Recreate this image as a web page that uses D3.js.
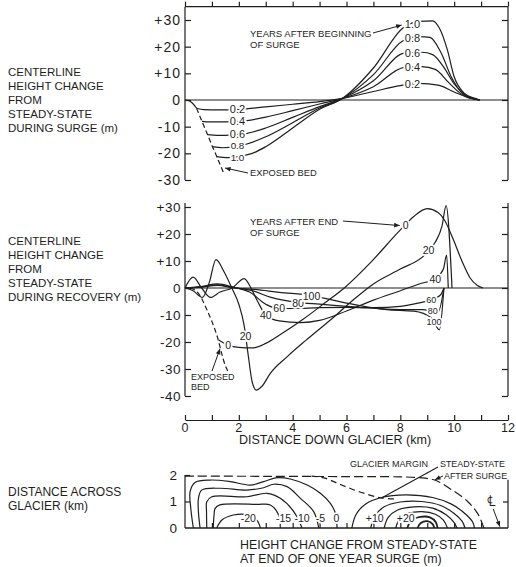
<!DOCTYPE html>
<html><head><meta charset="utf-8">
<script src="https://cdn.jsdelivr.net/npm/d3@7"></script>
<style>
body{margin:0;background:#fff}
svg{display:block}
text{font-family:"Liberation Sans",Arial,sans-serif;fill:#1e1e1e}
</style></head><body>
<svg id="c" width="516" height="567"></svg>
<script>
// ================= DATA =================
const distTicks = [0,2,4,6,8,10,12];
const distMinorTicks = [0,1,2,3,4,5,6,7,8,9,10,11,12];
const topYTicks = [30,20,10,0,-10,-20,-30];
const midYTicks = [30,20,10,0,-10,-20,-30,-40];
const acrossTicks = [0,1,2];

// Panel 1: centerline height change during surge (km, m)
const surgeYears = ["0.2","0.4","0.6","0.8","1.0"];
const surgeStart = [[0,0],[0.12,-0.2],[0.27,-1.1],[0.43,-3.1]];
const surgeBed = [[0.43,-3.1],[0.63,-8],[0.84,-13],[1.02,-17.5],[1.18,-21.2],[1.42,-27]];
const surge02 = [[0.43,-3.1],[0.7,-3.6],[1.2,-3.7],[2,-3.5],[3,-2.6],[4,-1.6],[5,-0.6],[5.85,0.6],[7,3.2],[8,5.4],[8.7,6.2],[9.4,5.6],[10,3],[10.5,1],[10.95,0]];
const surge04 = [[0.63,-8],[0.9,-8.2],[1.5,-8.2],[2.3,-7.7],[3,-6.4],[4,-4],[5,-1.5],[5.85,0.6],[7,5],[8.15,12.2],[8.8,12.5],[9.3,11.5],[9.8,6.5],[10.3,2],[10.95,0]];
const surge06 = [[0.84,-13],[1.2,-13.3],[1.8,-13.1],[2.3,-12.5],[3,-10.5],[4,-6.5],[5,-2.5],[5.85,0.6],[7,7.2],[8.15,17.6],[8.8,17.9],[9.2,17],[9.6,12.5],[10,6],[10.4,2],[10.95,0]];
const surge08 = [[1.02,-17.5],[1.4,-17.9],[1.9,-17.5],[2.3,-16.5],[3,-13.8],[4,-8.5],[5,-3],[5.85,0.6],[7,9.5],[8.1,22.2],[8.7,23.8],[9.1,23.5],[9.5,18],[9.9,8.5],[10.3,2.5],[10.7,0.6],[10.95,0]];
const surge10 = [[1.18,-21.2],[1.6,-21.6],[2.1,-21],[2.5,-20],[3,-17.5],[4,-10.5],[5,-3.5],[5.85,0.6],[7,12],[8.1,27],[8.7,29.5],[9.2,29.7],[9.45,27],[9.75,18.7],[10,8.7],[10.37,2.6],[10.75,0.7],[10.95,0]];

// Panel 2: centerline height change during recovery (km, m)
const recoveryYears = ["0","20","40","60","80","100"];
const recBed = [[0.2,0],[0.5,-2],[0.81,-8],[1.18,-17.4],[1.49,-28.5],[1.6,-31]];
const rec0 = [[1.25,-19.3],[1.6,-21.2],[2,-22],[2.5,-22.2],[3,-20.5],[3.5,-17.5],[4.4,-11.5],[5.2,-5.5],[5.95,0.3],[6.9,9.5],[8,21.5],[8.5,26.5],[9,29.4],[9.4,28],[9.65,25],[9.95,18.4],[10.3,9.7],[10.6,3.6],[10.85,1],[11.07,0]];
const rec20 = [[0,0],[0.3,-1],[0.65,-3.5],[0.9,2],[1.15,10.5],[1.45,6],[1.74,0],[2,-6],[2.2,-14],[2.35,-25],[2.5,-35],[2.65,-37.8],[2.85,-36.5],[3.17,-31.6],[3.8,-25.4],[4.5,-19.3],[5.5,-11],[6.3,-4],[7,1.5],[8,7],[8.9,12.2],[9.3,17],[9.55,23],[9.7,30.5],[9.92,0]];
const rec40 = [[0,0],[0.3,4],[0.62,0],[0.95,-3.5],[1.3,-1.5],[1.75,0],[2.2,3.5],[2.45,0],[2.7,-5],[3,-10],[3.5,-12.2],[4.3,-12.8],[5,-12],[6,-8.5],[7,-4.5],[8,-1],[8.7,1.5],[9.3,3.5],[9.6,7],[9.72,12.2],[9.78,0]];
const rec60 = [[0,0],[0.6,0.5],[1.2,1.5],[1.8,0.3],[2.4,-1.5],[3,-6],[3.4,-7.5],[4,-7.6],[5,-7.3],[6,-7.2],[7,-7.3],[8,-6.8],[8.7,-5.5],[9.2,-4.2],[9.5,-2.5],[9.62,0]];
const rec80 = [[0,0],[0.6,0.3],[1.2,1.2],[1.8,0.2],[2.5,-1],[3.2,-3.5],[4.2,-5.4],[5,-6],[6,-6.8],[7,-7.5],[8,-8],[8.8,-8],[9.4,-9],[9.62,0]];
const rec100 = [[0,0],[0.6,0.4],[1.2,1],[1.8,0],[2.6,-0.5],[3.5,-1.6],[4.7,-2.8],[5.5,-4.5],[6.5,-6.5],[7.5,-8],[8.5,-8.6],[9.15,-11],[9.45,-15.5],[9.62,0]];

// Panel 3: contours of height change at end of one-year surge (km down, km across)
const contourLevels = ["0","-5","-10","-15","-20","+5","+10","+15","+20","+25","+30"];
const cNeg0  = [[0.31,0],[0.22,0.7],[0.19,1.37],[0.37,1.72],[0.93,1.81],[1.68,1.75],[2.42,1.62],[2.92,1.75],[3.42,1.9],[3.91,1.85],[4.54,1.62],[5.03,1.31],[5.4,0.93],[5.59,0.55],[5.65,0]];
const cNeg5  = [[0.56,0],[0.5,0.6],[0.5,1.12],[0.62,1.43],[1.3,1.5],[2.3,1.43],[2.92,1.52],[3.29,1.65],[3.79,1.56],[4.29,1.12],[4.78,0.62],[4.97,0]];
const cNeg10 = [[0.81,0],[0.8,0.6],[0.81,0.99],[1,1.18],[2.3,1.18],[3.05,1.31],[3.54,1.12],[4.04,0.62],[4.35,0]];
const cNeg15 = [[1.05,0],[1.08,0.5],[1.12,0.74],[1.3,0.87],[2.67,0.89],[3.17,0.87],[3.48,0.49],[3.54,0]];
const cNeg20 = [[1.18,0],[1.37,0.3],[1.8,0.49],[2.3,0.5],[2.67,0.3],[2.8,0]];
const cPos5  = [[6.2,0],[6.35,0.5],[6.7,0.9],[7.3,1.15],[8.2,1.25],[9.2,1.15],[9.9,0.9],[10.45,0.5],[10.7,0.2],[10.75,0]];
const cPos10 = [[6.9,0],[7.05,0.45],[7.4,0.8],[8,0.98],[8.8,1],[9.5,0.85],[10,0.55],[10.3,0.25],[10.4,0]];
const cPos15 = [[7.4,0],[7.55,0.4],[7.9,0.68],[8.5,0.8],[9.2,0.75],[9.7,0.5],[10,0.2],[10.1,0]];
const cPos20 = [[7.83,0],[7.98,0.35],[8.3,0.55],[8.8,0.62],[9.3,0.52],[9.6,0.3],[9.75,0]];
const cPos25 = [[8.26,0],[8.4,0.28],[8.75,0.42],[9.1,0.4],[9.32,0.22],[9.38,0]];
const cPos30 = [[8.64,0],[8.75,0.18],[9,0.26],[9.2,0.15],[9.26,0]];
const marginAfterSurge = [[0,1.96],[3,1.95],[6,1.94],[8,1.93],[8.7,1.9],[9.3,1.8],[9.9,1.45],[10.5,1],[10.87,0.55],[11.06,0.12],[11.1,0]];
const marginSteady = [[4.7,1.96],[5.2,1.88],[5.8,1.63],[6.5,1.36],[7.27,1.14],[7.8,1.1]];
const contourLabelX = [5.63,5.03,4.35,3.66,2.35,null,7.05,null,8.2,null,null];

// ================= DRAW =================
const ink = "#1e1e1e";
const svg = d3.select("#c");
const x = d3.scaleLinear().domain([0,12]).range([185,508]);
const yTop = d3.scaleLinear().domain([-30,30]).range([180,20]);
const yMid = d3.scaleLinear().domain([-40,30]).range([396,207]);
const yBot = d3.scaleLinear().domain([0,2]).range([528,475]);

function interp(pts, xv){
  for(let i=1;i<pts.length;i++){
    const a=pts[i-1], b=pts[i];
    if(xv>=a[0] && xv<=b[0]) return a[1]+(b[1]-a[1])*(xv-a[0])/(b[0]-a[0]);
  }
  return pts[pts.length-1][1];
}
function path(g, pts, ys, curve, dash, w){
  g.append("path").datum(pts)
    .attr("d", d3.line().x(d=>x(d[0])).y(d=>ys(d[1])).curve(curve))
    .attr("fill","none").attr("stroke",ink).attr("stroke-width",w||1.2)
    .attr("stroke-dasharray",dash||null).attr("stroke-linejoin","round");
}
function label(g, txt, px, py, size, anchor){
  g.append("text").attr("x",px).attr("y",py).attr("text-anchor",anchor||"middle")
    .attr("dominant-baseline","central").attr("font-size",size)
    .attr("stroke","#fff").attr("stroke-width",3.5).attr("paint-order","stroke")
    .text(txt);
}
function arrow(g, x1,y1,x2,y2){
  g.append("line").attr("x1",x1).attr("y1",y1).attr("x2",x2).attr("y2",y2)
    .attr("stroke",ink).attr("stroke-width",1);
  const a=Math.atan2(y2-y1,x2-x1), L=6, s=0.4;
  const p=[[x2,y2],[x2-L*Math.cos(a-s),y2-L*Math.sin(a-s)],[x2-L*Math.cos(a+s),y2-L*Math.sin(a+s)]];
  g.append("path").attr("d","M"+p.map(d=>d.join(",")).join("L")+"Z").attr("fill",ink);
}
function textBlock(lines, px, py0, dy, size){
  lines.forEach((t,i)=>svg.append("text").attr("x",px).attr("y",py0+i*dy)
    .attr("font-size",size).attr("dominant-baseline","central").text(t));
}
function note(g, t, px, py, size){
  g.append("text").attr("x",px).attr("y",py).attr("font-size",size).attr("dominant-baseline","central").text(t);
}
const fmt = v => v>0 ? "+"+v : (v<0 ? "-"+Math.abs(v) : "0");
const styleTicks = s=>{s.select(".domain").remove(); s.selectAll("line").attr("stroke",ink).attr("stroke-width",1.2);};

// ---------- Panel 1 ----------
const g1 = svg.append("g");
const topFrame = yTop(35);
g1.append("line").attr("x1",x(0)).attr("x2",x(12)).attr("y1",topFrame).attr("y2",topFrame).attr("stroke",ink).attr("stroke-width",1.2);
g1.append("line").attr("x1",x(0)).attr("x2",x(0)).attr("y1",topFrame).attr("y2",yTop(-30)).attr("stroke",ink).attr("stroke-width",1.2);
g1.append("line").attr("x1",x(12)).attr("x2",x(12)).attr("y1",topFrame).attr("y2",yTop(-30)).attr("stroke",ink).attr("stroke-width",1.2);
g1.append("line").attr("x1",x(0)).attr("x2",x(12)).attr("y1",yTop(0)).attr("y2",yTop(0)).attr("stroke",ink).attr("stroke-width",1.1);
g1.append("g").attr("transform",`translate(0,${topFrame})`)
  .call(d3.axisBottom(x).tickValues(distMinorTicks).tickSize(-5).tickFormat("").tickSizeOuter(0)).call(styleTicks);
g1.append("g").attr("transform",`translate(${x(0)},0)`)
  .call(d3.axisRight(yTop).tickValues(topYTicks).tickSize(6).tickFormat("").tickSizeOuter(0)).call(styleTicks);
g1.append("g").attr("transform",`translate(${x(12)},0)`)
  .call(d3.axisLeft(yTop).tickValues(topYTicks).tickSize(6).tickFormat("").tickSizeOuter(0)).call(styleTicks);
topYTicks.forEach(v=>g1.append("text").attr("x",181).attr("y",yTop(v)).attr("text-anchor","end")
  .attr("dominant-baseline","central").attr("font-size",14).attr("letter-spacing",1).text(fmt(v)));

path(g1, surgeStart, yTop, d3.curveMonotoneX);
path(g1, surgeBed, yTop, d3.curveLinear, "5,3");
const surgeSeries = [surge02,surge04,surge06,surge08,surge10];
surgeSeries.forEach(s=>path(g1, s, yTop, d3.curveMonotoneX));
const surgeLabNudge = [0,0,0,-1,1.2];
surgeSeries.forEach((s,i)=>{
  label(g1, surgeYears[i], x(1.95), yTop(interp(s,1.95))+surgeLabNudge[i], i>=3 ? 9.8 : 11);
  label(g1, surgeYears[i], x(8.45), yTop(interp(s,8.45)), 11);
});
note(g1, "YEARS AFTER BEGINNING", 250, 33, 9.5);
note(g1, "OF SURGE", 250, 44, 9.5);
arrow(g1, 373, 33, x(8.2)-4, yTop(interp(surge10,8.45))+1);
note(g1, "EXPOSED BED", 250, 173, 9.3);
arrow(g1, 248, 173, x(1.45)+1, yTop(-25.5));

// ---------- Panel 2 ----------
const g2 = svg.append("g");
g2.append("line").attr("x1",x(0)).attr("x2",x(0)).attr("y1",yMid(31.5)).attr("y2",yMid(-40)).attr("stroke",ink).attr("stroke-width",1.2);
g2.append("line").attr("x1",x(12)).attr("x2",x(12)).attr("y1",yMid(31.5)).attr("y2",yMid(-40)).attr("stroke",ink).attr("stroke-width",1.2);
g2.append("line").attr("x1",x(0)).attr("x2",x(12)).attr("y1",yMid(0)).attr("y2",yMid(0)).attr("stroke",ink).attr("stroke-width",1.1);
g2.append("g").attr("transform",`translate(${x(0)},0)`)
  .call(d3.axisRight(yMid).tickValues(midYTicks).tickSize(6).tickFormat("").tickSizeOuter(0)).call(styleTicks);
g2.append("g").attr("transform",`translate(${x(12)},0)`)
  .call(d3.axisLeft(yMid).tickValues(midYTicks).tickSize(6).tickFormat("").tickSizeOuter(0)).call(styleTicks);
midYTicks.forEach(v=>g2.append("text").attr("x",181).attr("y",yMid(v)).attr("text-anchor","end")
  .attr("dominant-baseline","central").attr("font-size",13.5).attr("letter-spacing",0.5).text(fmt(v)));
// distance axis
const axY = 420;
g2.append("g").attr("transform",`translate(0,${axY})`)
  .call(d3.axisTop(x).tickValues(distMinorTicks).tickSize(5).tickFormat("").tickSizeOuter(0))
  .call(s=>{s.select(".domain").attr("stroke",ink).attr("stroke-width",1.2); s.selectAll("line").attr("stroke",ink).attr("stroke-width",1.2);});
distTicks.forEach(v=>g2.append("text").attr("x",x(v)).attr("y",axY+7.5).attr("text-anchor","middle")
  .attr("dominant-baseline","central").attr("font-size",12.5).text(v));
g2.append("text").attr("x",335).attr("y",440).attr("text-anchor","middle").attr("dominant-baseline","central")
  .attr("font-size",12.5).text("DISTANCE DOWN GLACIER (km)");

path(g2, [[0,0],[0.2,0]], yMid, d3.curveLinear);
path(g2, recBed, yMid, d3.curveMonotoneX, "5,3");
const recSeries = [rec0,rec20,rec40,rec60,rec80,rec100];
recSeries.forEach(s=>path(g2, s, yMid, d3.curveMonotoneX));
const recLabLeft = [1.6,2.25,3.0,3.5,4.2,4.7];
const recLabRight = [8.2,9.05,9.3,9.15,9.2,9.25];
recSeries.forEach((s,i)=>{
  label(g2, recoveryYears[i], x(recLabLeft[i]), yMid(interp(s,recLabLeft[i])), 10.5);
  label(g2, recoveryYears[i], x(recLabRight[i]), yMid(interp(s,recLabRight[i])), i>=3 ? 9 : 10.5);
});
note(g2, "YEARS AFTER END", 250, 221, 9.5);
note(g2, "OF SURGE", 250, 232, 9.5);
arrow(g2, 343, 221, x(8.2)-6, yMid(interp(rec0,8.2))+1);
note(g2, "EXPOSED", 191, 377, 9);
note(g2, "BED", 191, 387, 9);
arrow(g2, 212, 371, x(1.3), yMid(-22.5));

// ---------- Panel 3 ----------
const g3 = svg.append("g");
g3.append("line").attr("x1",x(0)).attr("x2",x(12)).attr("y1",yBot(0)).attr("y2",yBot(0)).attr("stroke",ink).attr("stroke-width",1.3);
g3.append("line").attr("x1",x(0)).attr("x2",x(0)).attr("y1",yBot(0)).attr("y2",yBot(2)).attr("stroke",ink).attr("stroke-width",1.2);
g3.append("line").attr("x1",x(12)).attr("x2",x(12)).attr("y1",yBot(0)).attr("y2",yBot(1.82)).attr("stroke",ink).attr("stroke-width",1.2);
g3.append("g").attr("transform",`translate(0,${yBot(0)})`)
  .call(d3.axisTop(x).tickValues(distMinorTicks.slice(1,12)).tickSize(5).tickFormat("").tickSizeOuter(0)).call(styleTicks);
g3.append("g").attr("transform",`translate(${x(0)},0)`)
  .call(d3.axisRight(yBot).tickValues(acrossTicks.slice(1)).tickSize(5).tickFormat("").tickSizeOuter(0)).call(styleTicks);
g3.append("g").attr("transform",`translate(${x(12)},0)`)
  .call(d3.axisLeft(yBot).tickValues([1]).tickSize(5).tickFormat("").tickSizeOuter(0)).call(styleTicks);
acrossTicks.forEach(v=>g3.append("text").attr("x",177).attr("y",yBot(v)).attr("text-anchor","end")
  .attr("dominant-baseline","central").attr("font-size",13.5).text(v));

path(g3, marginAfterSurge, yBot, d3.curveCatmullRom.alpha(0.5), "9,4");
path(g3, marginSteady, yBot, d3.curveCatmullRom.alpha(0.5), "6,4");
const contours = [cNeg0,cNeg5,cNeg10,cNeg15,cNeg20,cPos5,cPos10,cPos15,cPos20,cPos25,cPos30];
contours.forEach((c,i)=>path(g3, c, yBot, d3.curveCatmullRom.alpha(0.5), null, i>=9?1.8:1.2));
contourLevels.forEach((lv,i)=>{
  if(contourLabelX[i]!==null) label(g3, lv, x(contourLabelX[i]), yBot(0.36), 10.5);
});
note(g3, "GLACIER MARGIN", 350, 464, 9);
note(g3, "STEADY-STATE", 440, 464, 8.9);
note(g3, "AFTER SURGE", 444, 476, 8.9);
g3.append("line").attr("x1",438).attr("y1",467).attr("x2",x(7.3)).attr("y2",yBot(1.13)).attr("stroke",ink).attr("stroke-width",1.1);
arrow(g3, 443, 476, x(9.25)+1, yBot(1.82));
g3.append("text").attr("x",x(11.4)).attr("y",yBot(1.05)).attr("text-anchor","middle").attr("dominant-baseline","central")
  .attr("font-family","'DejaVu Sans',sans-serif").attr("font-size",15).attr("fill",ink).text("\u2104");
arrow(g3, x(11.45), yBot(0.72), x(11.7), yBot(0.05));
note(g3, "HEIGHT CHANGE FROM STEADY-STATE", 240, 545, 12.4);
note(g3, "AT END OF ONE YEAR SURGE (m)", 240, 559, 12.4);

// ---------- left titles ----------
textBlock(["CENTERLINE","HEIGHT CHANGE","FROM","STEADY-STATE","DURING SURGE (m)"], 8, 72, 14, 11.5);
textBlock(["CENTERLINE","HEIGHT CHANGE","FROM","STEADY-STATE","DURING RECOVERY (m)"], 8, 241, 14, 11.5);
textBlock(["DISTANCE ACROSS","GLACIER (km)"], 8, 492, 13.5, 12);
</script>
</body></html>
